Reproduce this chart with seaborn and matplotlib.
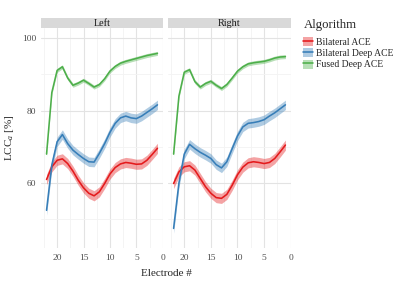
import numpy as np
import pandas as pd
import matplotlib
matplotlib.use("Agg")
import matplotlib.pyplot as plt
import seaborn as sns
from matplotlib.lines import Line2D
from matplotlib.patches import Patch

# Electrodes run from 22 (basal) down to 1
electrodes = list(range(22, 0, -1))
algorithms = ["Bilateral ACE", "Bilateral Deep ACE", "Fused Deep ACE"]
sides = ["Left", "Right"]

# Smoothed LCC_a per electrode
left_bilateral_ace = [61.0, 64.5, 66.3, 66.7, 65.4, 63.3, 60.8, 58.7, 57.2, 56.5, 57.6,
                      59.9, 62.5, 64.3, 65.3, 65.7, 65.5, 65.2, 65.3, 66.3, 67.9, 69.6]
left_bilateral_deep = [52.5, 65.0, 71.4, 73.4, 70.9, 69.1, 67.9, 66.8, 65.9, 65.8, 68.2,
                       70.9, 74.0, 76.5, 78.0, 78.5, 78.0, 77.8, 78.5, 79.5, 80.5, 81.6]
left_fused_deep = [68.0, 85.0, 91.1, 92.1, 89.0, 87.0, 87.6, 88.4, 87.5, 86.5, 87.2,
                   88.8, 90.9, 92.2, 93.1, 93.6, 94.0, 94.4, 94.8, 95.2, 95.5, 95.8]

right_bilateral_ace = [59.9, 63.1, 64.5, 64.8, 63.6, 61.3, 59.0, 57.2, 56.0, 55.8, 56.9,
                       59.4, 62.3, 64.4, 65.6, 65.9, 65.7, 65.4, 65.7, 66.8, 68.6, 70.5]
right_bilateral_deep = [47.5, 60.0, 68.0, 70.7, 69.5, 68.5, 67.7, 66.8, 65.1, 64.2, 65.9,
                        69.5, 73.0, 75.5, 76.5, 76.7, 77.0, 77.5, 78.5, 79.4, 80.5, 81.6]
right_fused_deep = [68.0, 84.0, 90.6, 91.3, 88.0, 86.5, 87.5, 88.1, 87.0, 86.1, 87.2,
                    89.0, 90.9, 92.1, 92.9, 93.2, 93.4, 93.6, 94.0, 94.5, 94.8, 94.9]

# Confidence band half-widths
ci_bilateral_ace = 1.4
ci_bilateral_deep = 1.3
ci_fused_deep = 0.55

values = {
    ("Left", "Bilateral ACE"): left_bilateral_ace,
    ("Left", "Bilateral Deep ACE"): left_bilateral_deep,
    ("Left", "Fused Deep ACE"): left_fused_deep,
    ("Right", "Bilateral ACE"): right_bilateral_ace,
    ("Right", "Bilateral Deep ACE"): right_bilateral_deep,
    ("Right", "Fused Deep ACE"): right_fused_deep,
}
ci = {"Bilateral ACE": ci_bilateral_ace,
      "Bilateral Deep ACE": ci_bilateral_deep,
      "Fused Deep ACE": ci_fused_deep}

rows = []
for (side, alg), vals in values.items():
    for e, v in zip(electrodes, vals):
        rows.append({"Side": side, "Algorithm": alg, "Electrode": e, "LCC": v,
                     "lo": v - ci[alg], "hi": v + ci[alg]})
df = pd.DataFrame(rows)

sns.set_theme(style="white")
plt.rcParams['font.family'] = ['Liberation Serif', 'DejaVu Serif']
plt.rcParams['mathtext.fontset'] = 'custom'
plt.rcParams['mathtext.rm'] = 'Liberation Serif'
plt.rcParams['mathtext.it'] = 'Liberation Serif:italic'

palette = dict(zip(algorithms, ["#E41A1C", "#377EB8", "#4DAF4A"]))

W, H = 399, 283
fig = plt.figure(figsize=(W / 100, H / 100), dpi=100)

panels = [(41, 163), (168, 291)]
top_px, bot_px = 28, 248

for side, (x0, x1) in zip(sides, panels):
    ax = fig.add_axes([x0 / W, 1 - bot_px / H, (x1 - x0) / W, (bot_px - top_px) / H])
    sub = df[df["Side"] == side]
    for alg in algorithms:
        s = sub[sub["Algorithm"] == alg]
        ax.fill_between(s["Electrode"], s["lo"], s["hi"], color=palette[alg],
                        alpha=0.4, linewidth=0)
    sns.lineplot(data=sub, x="Electrode", y="LCC", hue="Algorithm", palette=palette,
                 hue_order=algorithms, linewidth=1.15, ax=ax, legend=False)
    ax.set_xlim(23.05, -0.05)
    ax.set_ylim(42.1, 102.8)
    ax.set_xticks([20, 15, 10, 5, 0])
    ax.set_xticks([22.5, 17.5, 12.5, 7.5, 2.5], minor=True)
    ax.set_yticks([60, 80, 100])
    ax.set_yticks([50, 70, 90], minor=True)
    ax.grid(which="major", color="#E3E3E3", linewidth=0.8)
    ax.grid(which="minor", color="#F3F3F3", linewidth=0.6)
    ax.set_axisbelow(True)
    for sp in ax.spines.values():
        sp.set_visible(False)
    ax.tick_params(axis="both", which="both", length=0, labelsize=6.8,
                   labelcolor="#4D4D4D")
    ax.tick_params(axis="x", pad=4.0)
    ax.tick_params(axis="y", pad=3.5)
    if side == "Right":
        ax.set_yticklabels([])
    ax.set_xlabel("")
    ax.set_ylabel("")

    # facet strip
    st = fig.add_axes([x0 / W, 1 - top_px / H, (x1 - x0) / W, 10 / H])
    st.set_facecolor("#D9D9D9")
    st.set_xticks([])
    st.set_yticks([])
    for sp in st.spines.values():
        sp.set_visible(False)
    st.text(0.5, 0.45, side, ha="center", va="center", fontsize=7.3, color="#1A1A1A",
            transform=st.transAxes)

fig.text(166 / W, 1 - 273 / H, "Electrode #", ha="center", va="center", fontsize=8)
fig.text(10 / W, 1 - 138 / H, r"LCC$_a$ [%]", ha="center", va="center",
         rotation=90, fontsize=8)

# legend
fig.text(304 / W, 1 - 25 / H, "Algorithm", ha="left", va="center", fontsize=9.2)
handles = [(Patch(facecolor=palette[a], alpha=0.4, edgecolor="none"),
            Line2D([], [], color=palette[a], linewidth=1.15)) for a in algorithms]
leg = fig.legend(handles, algorithms, loc="upper left",
                 bbox_to_anchor=(302 / W, 1 - 36 / H), frameon=False, fontsize=6.9,
                 handlelength=1.0, handleheight=1.1, handletextpad=0.35,
                 labelspacing=0.15, borderaxespad=0, borderpad=0.1)

fig.savefig("out.png", dpi=100)
